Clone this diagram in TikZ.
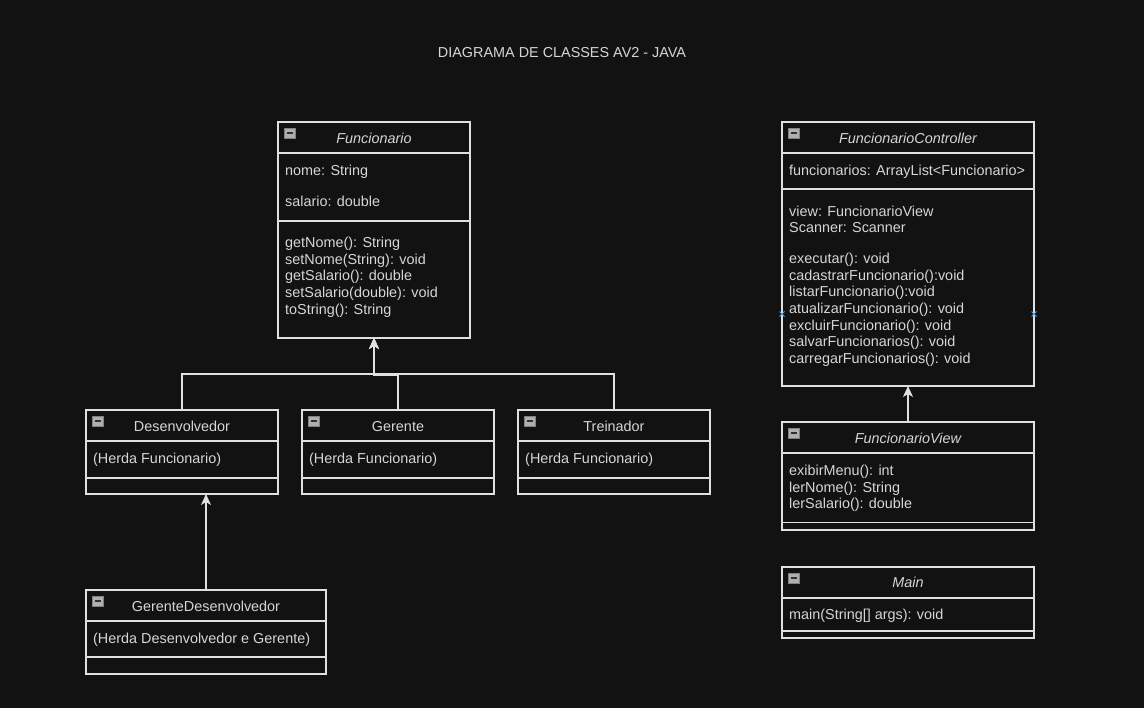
\documentclass[tikz,border=0pt]{standalone}
\usepackage{fontspec}
\setmainfont{Liberation Sans}
\usetikzlibrary{arrows.meta,calc}
\definecolor{bg}{HTML}{121212}
\definecolor{lc}{HTML}{E0E0E0}
\definecolor{tc}{HTML}{D6D6D6}
\definecolor{ic}{HTML}{B0B0B0}
\definecolor{icb}{HTML}{808080}
\definecolor{icm}{HTML}{303030}
\definecolor{mk}{HTML}{4A9BE0}
\newcommand\fsz{\fontsize{14.4}{16.8}\selectfont}
\newcommand\clsicon[1]{%
  \path[fill=ic,draw=icb,line width=0.7pt] ($(#1.north west)+(6,6)$) rectangle ++(11,10);
  \draw[line width=1.5pt,icm] ($(#1.north west)+(8.5,11)$) -- ++(6,0);}
\newcommand\hsep[2]{\draw[sepl] ($(#1.north west)+(0,#2)$) -- ($(#1.north east)+(0,#2)$);}
\newcommand\mkx[1]{\draw[mk,line width=1pt] ($(#1)+(-2.5,-2.5)$) -- ($(#1)+(2.5,2.5)$) ($(#1)+(-2.5,2.5)$) -- ($(#1)+(2.5,-2.5)$);}
\begin{document}
\begin{tikzpicture}[x=1pt,y=-1pt,
  box/.style={draw=lc,line width=1.2pt,fill=bg,inner sep=0pt,outer sep=0pt,anchor=north west},
  sepl/.style={draw=lc,line width=1.2pt},
  txt/.style={text=tc,font=\fsz,anchor=base west,inner sep=0pt},
  ttl/.style={text=tc,font=\fsz,anchor=base,inner sep=0pt},
  ittl/.style={text=tc,font=\fsz\itshape,anchor=base,inner sep=0pt},
  edge/.style={draw=lc,line width=1.2pt,-{Stealth[length=11pt,width=10pt,inset=3pt]}}]
\fill[bg] (0,0) rectangle (1144,708);
\useasboundingbox (0,0) rectangle (1144,708);

\node[ttl] (title) at (562,57.5) {DIAGRAMA DE CLASSES AV2 - JAVA};

% Funcionario
\node[box,minimum width=192pt,minimum height=216pt] (func) at (278,122) {};
\hsep{func}{31}\hsep{func}{99}
\clsicon{func}
\node[ittl] (funct) at (374,143.5) {Funcionario};
\node[txt] (f1) at (285,175.5) {nome: String};
\node[txt] (f2) at (285,206.5) {salario: double};
\node[txt] (f3) at (285,247.5) {getNome(): String};
\node[txt] (f4) at (285,264.2) {setNome(String): void};
\node[txt] (f5) at (285,280.9) {getSalario(): double};
\node[txt] (f6) at (285,297.6) {setSalario(double): void};
\node[txt] (f7) at (285,314.3) {toString(): String};

% Desenvolvedor, Gerente, Treinador
\node[box,minimum width=192pt,minimum height=84pt] (desn) at (86,410) {};
\node[box,minimum width=192pt,minimum height=84pt] (ger) at (302,410) {};
\node[box,minimum width=192pt,minimum height=84pt] (trei) at (518,410) {};
\hsep{desn}{31}\hsep{desn}{68}
\hsep{ger}{31}\hsep{ger}{68}
\hsep{trei}{31}\hsep{trei}{68}
\clsicon{desn}\clsicon{ger}\clsicon{trei}
\node[ttl] (desnt) at (182,431.5) {Desenvolvedor};
\node[ttl] (gert) at (398,431.5) {Gerente};
\node[ttl] (treit) at (614,431.5) {Treinador};
\node[txt] (d1) at (93,463.5) {(Herda Funcionario)};
\node[txt] (g1) at (309,463.5) {(Herda Funcionario)};
\node[txt] (t1) at (525,463.5) {(Herda Funcionario)};

% GerenteDesenvolvedor
\node[box,minimum width=240pt,minimum height=84pt] (gd) at (86,590) {};
\hsep{gd}{31}\hsep{gd}{67}
\clsicon{gd}
\node[ttl] (gdt) at (206,611.5) {GerenteDesenvolvedor};
\node[txt] (gd1) at (93,643.5) {(Herda Desenvolvedor e Gerente)};

% FuncionarioController
\node[box,minimum width=252pt,minimum height=264pt] (ctrl) at (782,122) {};
\hsep{ctrl}{31}\hsep{ctrl}{67}
\clsicon{ctrl}
\node[ittl] (ctrlt) at (908,143.5) {FuncionarioController};
\node[txt] (c1) at (789,175.5) {funcionarios: ArrayList<Funcionario>};
\node[txt] (c2) at (789,216.2) {view: FuncionarioView};
\node[txt] (c3) at (789,232.9) {Scanner: Scanner};
\node[txt] (c4) at (789,263.5) {executar(): void};
\node[txt] (c5) at (789,280.2) {cadastrarFuncionario():void};
\node[txt] (c6) at (789,296.9) {listarFuncionario():void};
\node[txt] (c7) at (789,313.6) {atualizarFuncionario(): void};
\node[txt] (c8) at (789,330.3) {excluirFuncionario(): void};
\node[txt] (c9) at (789,347.0) {salvarFuncionarios(): void};
\node[txt] (c10) at (789,363.7) {carregarFuncionarios(): void};
\mkx{$(ctrl.north west)+(0,192)$}
\mkx{$(ctrl.north east)+(0,192)$}

% FuncionarioView
\node[box,minimum width=252pt,minimum height=108pt] (view) at (782,422) {};
\hsep{view}{31}\hsep{view}{100.5}
\clsicon{view}
\node[ittl] (viewt) at (908,443.5) {FuncionarioView};
\node[txt] (v1) at (789,475.5) {exibirMenu(): int};
\node[txt] (v2) at (789,492.2) {lerNome(): String};
\node[txt] (v3) at (789,508.9) {lerSalario(): double};

% Main
\node[box,minimum width=252pt,minimum height=71pt] (main) at (782,567) {};
\hsep{main}{31}\hsep{main}{64}
\clsicon{main}
\node[ittl] (maint) at (908,587.5) {Main};
\node[txt] (m1) at (789,619.5) {main(String[] args): void};

% connectors
\coordinate (j1) at (374,374);
\coordinate (j2) at (374,375.5);
\draw[edge] (desn.north) |- (j1) -- (func.south);
\draw[edge] (trei.north) |- (j1) -- (func.south);
\draw[edge] (ger.north) |- (j2) -- (func.south);
\draw[edge] (gd.north) -- (gd.north |- desn.south);
\draw[edge] (view.north) -- (ctrl.south);
\end{tikzpicture}
\end{document}
